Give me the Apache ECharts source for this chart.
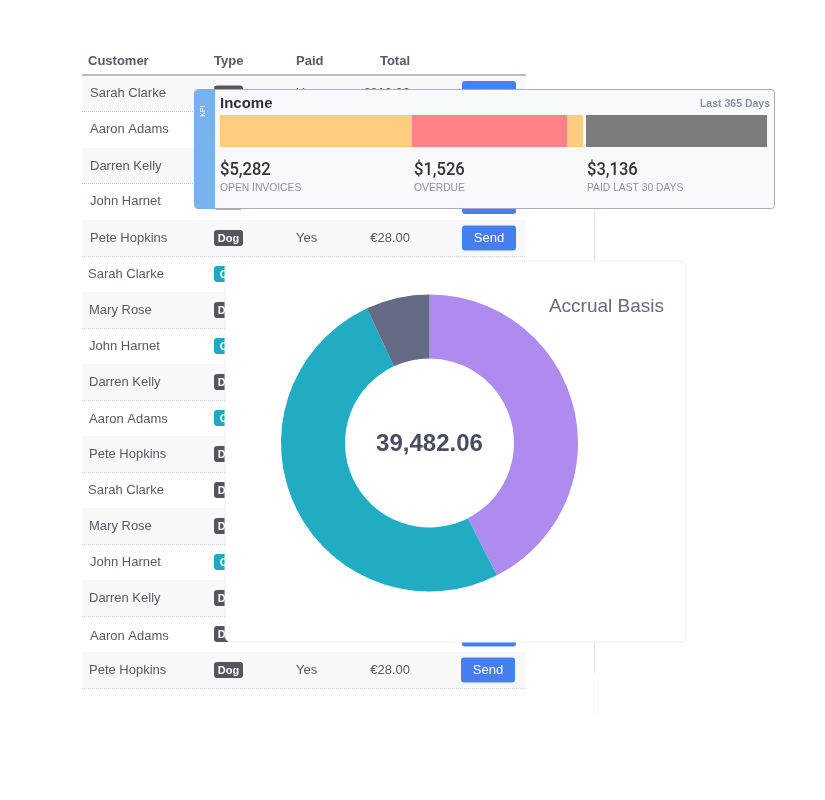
<!DOCTYPE html>
<html>
<head>
<meta charset="utf-8">
<title>Income</title>
<style>
    html, body { margin: 0; padding: 0; background: #fff; }
    #main { width: 825px; height: 800px; }
</style>
<script src="https://cdn.jsdelivr.net/npm/echarts@6/dist/echarts.min.js"></script>
</head>
<body>
<div id="main"></div>
<script>
// 表格数据
var headers = ['Customer', 'Type', 'Paid', 'Total'];
var customers = ['Sarah Clarke', 'Aaron Adams', 'Darren Kelly', 'John Harnet', 'Pete Hopkins', 'Sarah Clarke', 'Mary Rose', 'John Harnet', 'Darren Kelly', 'Aaron Adams', 'Pete Hopkins', 'Sarah Clarke', 'Mary Rose', 'John Harnet', 'Darren Kelly', 'Aaron Adams', 'Pete Hopkins'];
var types = ['Dog', 'Cat', 'Dog', 'Dog', 'Dog', 'Cat', 'Dog', 'Cat', 'Dog', 'Cat', 'Dog', 'Dog', 'Dog', 'Cat', 'Dog', 'Dog', 'Dog'];
var paid = ['Yes', '', '', '', 'Yes', '', '', '', '', '', '', '', '', '', '', '', 'Yes'];
var totals = ['€210.00', '', '', '', '€28.00', '', '', '', '', '', '', '', '', '', '', '', '€28.00'];

// KPI 数据
var kpiTitle = 'Income';
var kpiPeriod = 'Last 365 Days';
var kpiValues = ['$5,282', '$1,526', '$3,136'];
var kpiLabels = ['OPEN INVOICES', 'OVERDUE', 'PAID LAST 30 DAYS'];
var barOpen = [192];
var barOverdue = [155];
var barOpenRest = [16];
var barGap = [3];
var barPaid = [181];

// 环形图数据
var donutTitle = 'Accrual Basis';
var donutTotal = '39,482.06';
var donutNames = ['Purple', 'Teal', 'Slate'];
var donutValues = [16780, 19970, 2732];

// 布局
var rowEdges = [76, 111, 148, 183, 220, 256, 292, 328, 364, 400, 436, 472, 508, 544, 580, 616, 652, 688];
var nameX = [90, 90, 90, 90, 90, 88, 89, 89, 89, 89, 89, 88, 89, 90, 89, 90, 89];
var nameY = [93, 129, 166, 201, 238, 274, 310, 346, 382, 419, 454, 490, 526, 562, 598, 636, 670];
var kpiX = [220, 414, 587];
var textFont = '"Liberation Sans", Arial, sans-serif';
var textColor = '#565a66';

function label(x, y, text, font, fill, align, z) {
    return {
        type: 'text', x: x, y: y, z: z === undefined ? 0 : z, silent: true,
        style: { text: text, font: font, fill: fill, align: align || 'left', verticalAlign: 'middle' }
    };
}

function box(x, y, w, h, r, fill, stroke, z) {
    return {
        type: 'rect', x: x, y: y, z: z === undefined ? 0 : z, silent: true,
        shape: { x: 0, y: 0, width: w, height: h, r: r },
        style: { fill: fill, stroke: stroke || null, lineWidth: stroke ? 1 : 0 }
    };
}

function vline(y1, y2, color) {
    return box(594, y1, 1, y2 - y1, 0, color);
}

// 模糊一点的文字
function soft(el, color) {
    el.style.shadowBlur = 1.5;
    el.style.shadowColor = color;
    return el;
}

var els = [];

// 表格
headers.forEach(function (h, i) {
    var x = [88, 214, 296, 410][i];
    els.push(label(x, 61, h, 'bold 13px ' + textFont, textColor, i === 3 ? 'right' : 'left'));
});
els.push(box(82, 74, 444, 2, 0, '#bcbcc6'));

customers.forEach(function (name, i) {
    var top = rowEdges[i], bottom = rowEdges[i + 1], mid = (top + bottom) / 2;
    if (i % 2 === 0) {
        els.push(box(82, top, 444, bottom - top, 0, '#f8f8f8'));
    }
    els.push({
        type: 'line', silent: true, z: 0,
        shape: { x1: 82, y1: bottom + 0.5, x2: 526, y2: bottom + 0.5 },
        style: { stroke: '#cfcfcf', lineWidth: 1, lineDash: [1, 1] }
    });
    els.push(label(nameX[i], nameY[i], name, '13px ' + textFont, textColor));
    // 标签
    els.push(box(214, mid - 8, 29, 16, 3, types[i] === 'Dog' ? '#55555f' : '#1fa9c4'));
    els.push(label(228.5, mid + 0.5, types[i], 'bold 11px ' + textFont, '#fff', 'center'));
    els.push(label(296, mid, paid[i], '13px ' + textFont, textColor));
    els.push(label(410, mid, totals[i], '13px ' + textFont, textColor, 'right'));
    // 按钮
    var btnX = i === 16 ? 461 : 462;
    els.push(box(btnX, mid - 12.5, 54, 25, 3, '#4680f0'));
    els.push(label(btnX + 27, mid + 0.5, 'Send', '13px ' + textFont, '#fff', 'center'));
});

els.push(vline(210, 260, '#e4e4e6'));
els.push(vline(642, 673, '#e2e4e8'));
els.push(vline(680, 715, '#f6f6f7'));

// KPI 卡片
els.push(box(194.5, 89.5, 580, 119, 3, '#f8f9fa', '#a9abbd', 1));
els.push(box(194, 89, 21, 120, [6, 0, 0, 6], '#76b3ee', null, 1));
var kpiTag = label(203, 111, 'KPI', '7px ' + textFont, '#fff', 'center', 3);
kpiTag.rotation = Math.PI / 2;
els.push(kpiTag);
els.push(label(220, 104, kpiTitle, 'bold 15px ' + textFont, '#2f3138', 'left', 3));
els.push(label(770, 104, kpiPeriod, 'bold 10.5px ' + textFont, '#8b90a5', 'right', 3));
kpiValues.forEach(function (v, i) {
    var t = label(kpiX[i], 170, v, '500 18px Roboto, sans-serif', '#33353d', 'left', 3);
    t.scaleX = 0.92;
    els.push(t);
    els.push(label(kpiX[i], 188, kpiLabels[i], '10.3px ' + textFont, '#8d92a4', 'left', 3));
});

// 环形图卡片
els.push(box(225, 261, 461, 381, 6, '#fff', '#eceef0', 1));
els.push(soft(label(664, 307, donutTitle, '19px ' + textFont, '#666a7a', 'right', 3), '#8a8e9c'));
els.push(soft(label(429.5, 444, donutTotal, 'bold 24px ' + textFont, '#4a4d5e', 'center', 3), '#7a7d8c'));

var myChart = echarts.init(document.getElementById('main'));

function barSeries(name, data, color) {
    return {
        name: name, type: 'bar', stack: 'income', barWidth: '100%', silent: true, z: 2,
        itemStyle: { color: color },
        data: data
    };
}

var option = {
    animation: false,
    backgroundColor: '#fff',
    grid: { left: 220, top: 115, width: 547, height: 32 },
    xAxis: { type: 'value', min: 0, max: 547, show: false },
    yAxis: { type: 'category', data: ['Income'], show: false },
    graphic: { elements: els },
    series: [
        barSeries('Open invoices', barOpen, '#ffcc80'),
        barSeries('Overdue', barOverdue, '#ff8286'),
        barSeries('Open invoices rest', barOpenRest, '#ffcc80'),
        barSeries('Gap', barGap, 'transparent'),
        barSeries('Paid', barPaid, '#7b7c7e'),
        {
            name: 'Accrual Basis',
            type: 'pie',
            silent: true,
            z: 2,
            center: [429.5, 443],
            radius: [84.5, 148.5],
            startAngle: 90,
            label: { show: false },
            labelLine: { show: false },
            data: donutNames.map(function (n, i) {
                return { name: n, value: donutValues[i], itemStyle: { color: ['#ad8bef', '#20adc4', '#656a85'][i] } };
            })
        }
    ]
};
myChart.setOption(option);
</script>
</body>
</html>
